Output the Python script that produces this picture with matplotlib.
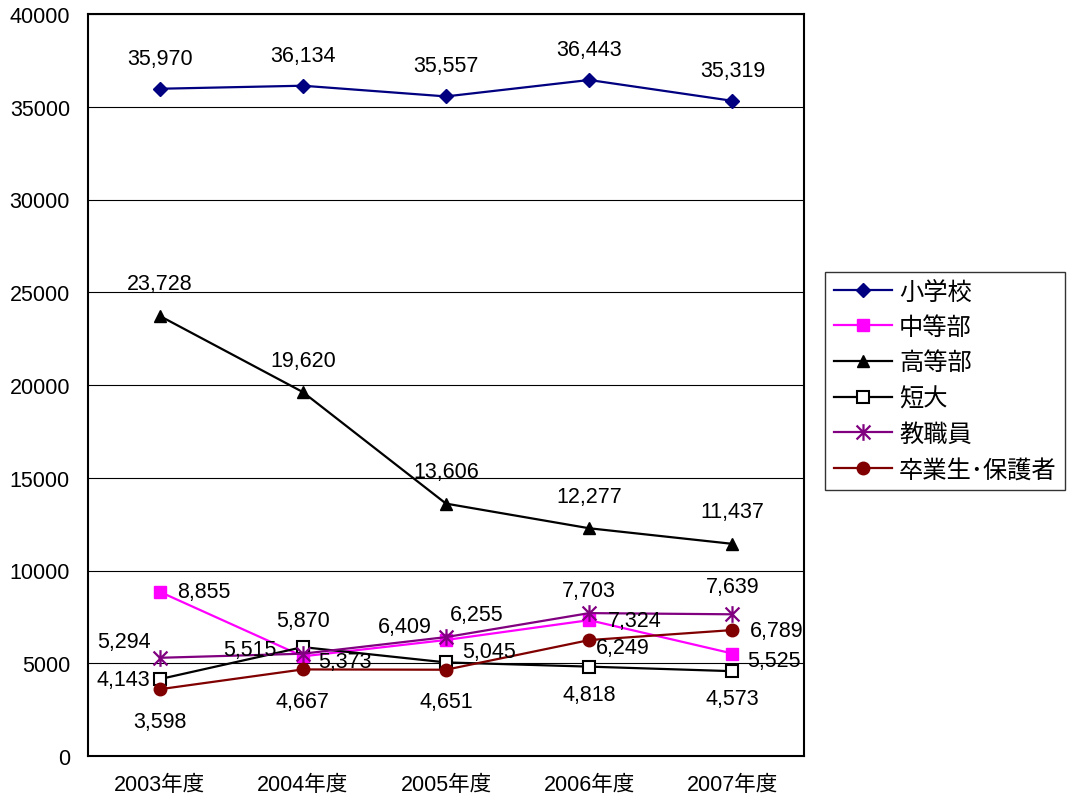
import matplotlib.pyplot as plt
from matplotlib.path import Path

plt.rcParams['font.family'] = ['Liberation Sans', 'Noto Sans CJK JP']

years = ['2003年度', '2004年度', '2005年度', '2006年度', '2007年度']

shogakko = [35970, 36134, 35557, 36443, 35319]
chutobu = [8855, 5373, 6255, 7324, 5525]
kotobu = [23728, 19620, 13606, 12277, 11437]
tandai = [4143, 5870, 5045, 4818, 4573]
kyoshokuin = [5294, 5515, 6409, 7703, 7639]
sotsugyosei = [3598, 4667, 4651, 6249, 6789]

# label offsets (points) for each value label
off_sho = [(0, 22)] * 5
off_chu = [(32, 0), (30, -4), (22, 18), (33, 0), (30, -5)]
off_ko = [(0, 23)] * 5
off_tan = [(-26, 0), (0, 19), (31, 8), (0, -20), (0, -20)]
off_kyo = [(-26, 12), (-38, 3), (-30, 8), (0, 16), (0, 20)]
off_sot = [(0, -23), (0, -23), (0, -23), (24, -5), (32, 0)]

# asterisk marker: x with a vertical bar
star = Path([(-1, -1), (1, 1), (-1, 1), (1, -1), (0, -1.2), (0, 1.2)],
            [Path.MOVETO, Path.LINETO, Path.MOVETO, Path.LINETO, Path.MOVETO, Path.LINETO])

fig = plt.figure(figsize=(10.72, 8.03), dpi=100)
ax = fig.add_axes([88 / 1072, 1 - 757 / 803, 716 / 1072, 742 / 803])

x = list(range(len(years)))
series = [
    ('小学校', shogakko, dict(color='#000080', marker='D', ms=7, mfc='#000080'), off_sho),
    ('中等部', chutobu, dict(color='#FF00FF', marker='s', ms=9, mfc='#FF00FF'), off_chu),
    ('高等部', kotobu, dict(color='black', marker='^', ms=9, mfc='black'), off_ko),
    ('短大', tandai, dict(color='black', marker='s', ms=9, mfc='white', mew=1.5), off_tan),
    ('教職員', kyoshokuin, dict(color='#800080', marker=star, ms=12, mew=1.6), off_kyo),
    ('卒業生･保護者', sotsugyosei, dict(color='#800000', marker='o', ms=9, mfc='#800000'), off_sot),
]

for name, vals, style, offs in series:
    ax.plot(x, vals, lw=1.6, label=name, **style)
    for xi, v, o in zip(x, vals, offs):
        ax.annotate(f'{v:,}', (xi, v), xytext=o, textcoords='offset points',
                    ha='center', va='center', fontsize=15.5)

ax.set_xlim(-0.5, 4.5)
ax.set_ylim(0, 40000)
ax.set_yticks(range(0, 40001, 5000))
ax.set_xticks(x)
ax.set_xticklabels(years)
ax.tick_params(labelsize=15.5, length=0)
ax.tick_params(axis='y', pad=13)
ax.tick_params(axis='x', pad=13)
ax.yaxis.grid(True, color='black', lw=0.8)
ax.set_axisbelow(True)
for s in ax.spines.values():
    s.set_linewidth(1.5)

leg = ax.legend(loc='upper left', bbox_to_anchor=((825 - 88) / 716, 1 - (273 - 15) / 742),
                fontsize=17.5, frameon=True, fancybox=False, edgecolor='black',
                handlelength=2.4, handletextpad=0.3, borderaxespad=0,
                labelspacing=0.52, borderpad=0.35)
leg.get_frame().set_linewidth(1)

fig.savefig('out.png', dpi=100)
